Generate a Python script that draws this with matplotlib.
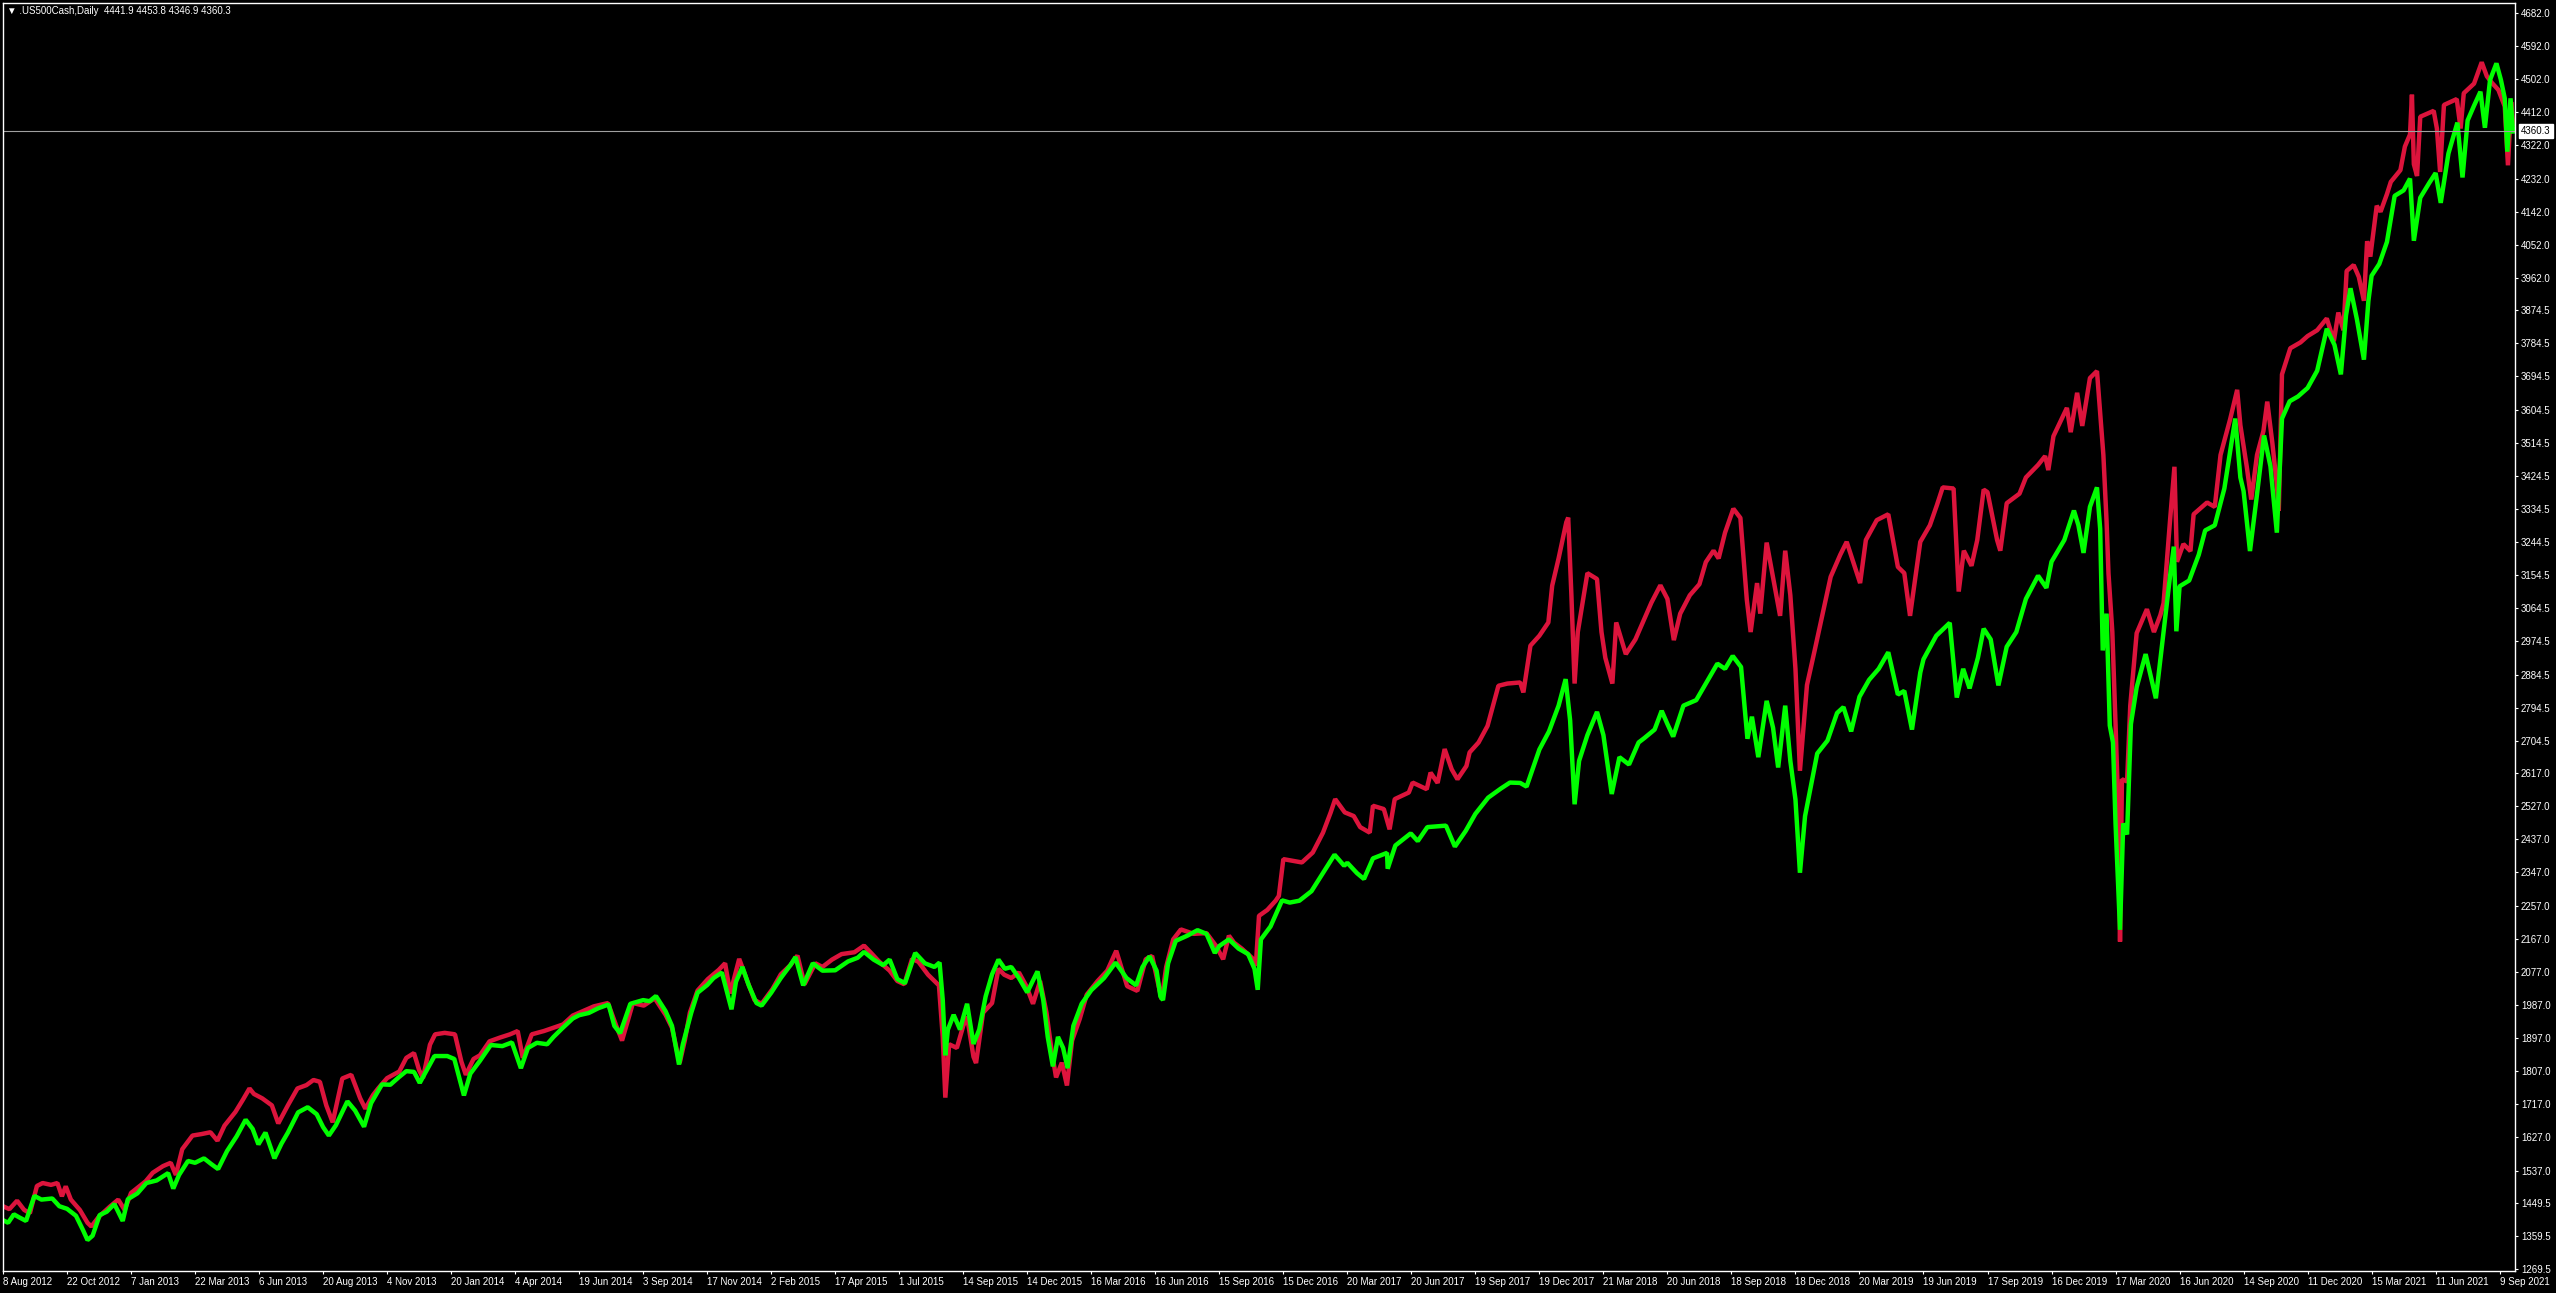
import numpy as np
import matplotlib
matplotlib.use("Agg")
import matplotlib.pyplot as plt
import matplotlib.transforms as mtransforms
from matplotlib import font_manager as fm

# ---------------- data ----------------
title_text = "\u25BC .US500Cash,Daily  4441.9 4453.8 4346.9 4360.3"
last_price = 4360.3

x_tick_labels = [
    "8 Aug 2012", "22 Oct 2012", "7 Jan 2013", "22 Mar 2013", "6 Jun 2013",
    "20 Aug 2013", "4 Nov 2013", "20 Jan 2014", "4 Apr 2014", "19 Jun 2014",
    "3 Sep 2014", "17 Nov 2014", "2 Feb 2015", "17 Apr 2015", "1 Jul 2015",
    "14 Sep 2015", "14 Dec 2015", "16 Mar 2016", "16 Jun 2016", "15 Sep 2016",
    "15 Dec 2016", "20 Mar 2017", "20 Jun 2017", "19 Sep 2017", "19 Dec 2017",
    "21 Mar 2018", "20 Jun 2018", "18 Sep 2018", "18 Dec 2018", "20 Mar 2019",
    "19 Jun 2019", "17 Sep 2019", "16 Dec 2019", "17 Mar 2020", "16 Jun 2020",
    "14 Sep 2020", "11 Dec 2020", "15 Mar 2021", "11 Jun 2021", "9 Sep 2021",
]

y_tick_values = [
    4682.0, 4592.0, 4502.0, 4412.0, 4322.0, 4232.0, 4142.0, 4052.0, 3962.0,
    3874.5, 3784.5, 3694.5, 3604.5, 3514.5, 3424.5, 3334.5, 3244.5, 3154.5,
    3064.5, 2974.5, 2884.5, 2794.5, 2704.5, 2617.0, 2527.0, 2437.0, 2347.0,
    2257.0, 2167.0, 2077.0, 1987.0, 1897.0, 1807.0, 1717.0, 1627.0, 1537.0,
    1449.5, 1359.5, 1269.5,
]

# bar position in units of the date-label spacing (label k sits at k)
green_x = [
    0.00, 0.08, 0.17, 0.25, 0.36, 0.49, 0.60, 0.77, 0.88, 1.00, 1.14, 1.25, 1.32, 1.40, 1.51,
    1.62, 1.74, 1.87, 1.95, 2.10, 2.24, 2.40, 2.58, 2.66, 2.75, 2.89, 3.00, 3.14, 3.25, 3.36,
    3.50, 3.65, 3.79, 3.90, 3.99, 4.10, 4.24, 4.35, 4.45, 4.61, 4.76, 4.90, 5.00, 5.09, 5.20,
    5.38, 5.50, 5.64, 5.75, 5.92, 6.05, 6.18, 6.30, 6.42, 6.51, 6.62, 6.74, 6.94, 7.05, 7.20,
    7.30, 7.45, 7.62, 7.80, 7.95, 8.09, 8.20, 8.34, 8.50, 8.60, 8.74, 8.90, 9.00, 9.15, 9.30,
    9.46, 9.55, 9.64, 9.80, 10.00, 10.10, 10.20, 10.35, 10.45, 10.56, 10.62, 10.75, 10.85, 11.00, 11.10,
    11.23, 11.38, 11.45, 11.55, 11.65, 11.77, 11.85, 12.00, 12.15, 12.30, 12.38, 12.50, 12.65, 12.80, 13.00,
    13.20, 13.35, 13.45, 13.60, 13.75, 13.85, 13.97, 14.09, 14.25, 14.40, 14.55, 14.63, 14.68, 14.72, 14.76,
    14.85, 14.95, 15.00, 15.06, 15.16, 15.25, 15.35, 15.45, 15.55, 15.65, 15.75, 15.87, 16.00, 16.08, 16.16,
    16.25, 16.32, 16.40, 16.48, 16.56, 16.63, 16.72, 16.85, 17.00, 17.20, 17.38, 17.55, 17.70, 17.80, 17.91,
    18.02, 18.08, 18.12, 18.20, 18.32, 18.50, 18.66, 18.80, 18.93, 19.00, 19.15, 19.30, 19.45, 19.55, 19.60,
    19.65, 19.80, 19.98, 20.10, 20.25, 20.44, 20.60, 20.80, 20.95, 21.00, 21.15, 21.26, 21.40, 21.62, 21.63,
    21.75, 21.99, 22.10, 22.25, 22.40, 22.54, 22.68, 22.85, 23.00, 23.20, 23.40, 23.54, 23.70, 23.80, 24.00,
    24.15, 24.30, 24.41, 24.48, 24.55, 24.62, 24.75, 24.90, 25.00, 25.13, 25.25, 25.40, 25.55, 25.64, 25.80,
    25.91, 26.00, 26.09, 26.25, 26.45, 26.60, 26.78, 26.90, 27.02, 27.15, 27.25, 27.32, 27.42, 27.55, 27.65,
    27.73, 27.84, 27.92, 28.00, 28.07, 28.15, 28.34, 28.50, 28.65, 28.75, 28.87, 29.00, 29.15, 29.30, 29.45,
    29.60, 29.70, 29.82, 29.95, 30.00, 30.20, 30.41, 30.52, 30.62, 30.72, 30.85, 30.94, 31.05, 31.17, 31.30,
    31.45, 31.60, 31.79, 31.92, 32.00, 32.20, 32.35, 32.42, 32.50, 32.60, 32.71, 32.76, 32.80, 32.86, 32.91,
    32.96, 33.00, 33.07, 33.12, 33.18, 33.24, 33.33, 33.47, 33.55, 33.63, 33.75, 33.85, 33.91, 33.95, 34.00,
    34.15, 34.30, 34.40, 34.55, 34.70, 34.87, 34.95, 35.00, 35.10, 35.20, 35.32, 35.42, 35.52, 35.60, 35.72,
    35.85, 36.00, 36.15, 36.30, 36.42, 36.52, 36.60, 36.67, 36.77, 36.88, 36.95, 37.00, 37.12, 37.24, 37.36,
    37.50, 37.60, 37.66, 37.76, 37.90, 38.00, 38.08, 38.20, 38.34, 38.42, 38.50, 38.60, 38.70, 38.77, 38.85,
    38.95, 39.02, 39.08, 39.12, 39.17, 39.21,
]
green_y = [
    1402, 1395, 1418, 1410, 1400, 1468, 1458, 1461, 1440, 1433, 1414, 1375, 1348, 1360, 1416,
    1425, 1446, 1400, 1459, 1475, 1503, 1510, 1530, 1488, 1525, 1563, 1558, 1570, 1555, 1541,
    1590, 1630, 1675, 1650, 1608, 1640, 1570, 1610, 1640, 1695, 1709, 1690, 1655, 1632, 1660,
    1725, 1700, 1656, 1720, 1771, 1770, 1790, 1807, 1805, 1775, 1810, 1848, 1848, 1840, 1741,
    1800, 1835, 1878, 1875, 1885, 1815, 1870, 1884, 1880, 1900, 1924, 1950, 1959, 1965, 1978,
    1988, 1930, 1910, 1990, 2000, 1997, 2011, 1970, 1930, 1825, 1880, 1965, 2020, 2041, 2060,
    2075, 1975, 2050, 2090, 2040, 1992, 1985, 2020, 2060, 2095, 2117, 2040, 2100, 2080, 2081,
    2105, 2115, 2131, 2110, 2095, 2110, 2057, 2046, 2128, 2100, 2090, 2102, 2000, 1850, 1920,
    1960, 1920, 1953, 1990, 1881, 1920, 2010, 2070, 2110, 2085, 2090, 2060, 2021, 2050, 2078,
    2000, 1900, 1820, 1900, 1870, 1815, 1930, 1990, 2027, 2060, 2102, 2060, 2040, 2090, 2119,
    2080, 2010, 2000, 2100, 2161, 2175, 2190, 2180, 2128, 2147, 2165, 2140, 2125, 2085, 2028,
    2165, 2200, 2271, 2265, 2270, 2296, 2340, 2395, 2365, 2373, 2345, 2329, 2385, 2400, 2357,
    2420, 2453, 2432, 2470, 2472, 2474, 2417, 2460, 2506, 2550, 2575, 2591, 2590, 2580, 2681,
    2730, 2800, 2872, 2760, 2532, 2650, 2720, 2783, 2720, 2560, 2660, 2640, 2700, 2712, 2735,
    2786, 2750, 2716, 2800, 2815, 2860, 2914, 2900, 2935, 2905, 2710, 2770, 2660, 2813, 2740,
    2632, 2800, 2650, 2545, 2346, 2500, 2670, 2705, 2780, 2796, 2730, 2824, 2870, 2900, 2945,
    2830, 2840, 2735, 2890, 2926, 2990, 3025, 2822, 2900, 2847, 2930, 3009, 2980, 2855, 2960,
    3000, 3090, 3153, 3120, 3191, 3250, 3330, 3290, 3215, 3340, 3393, 3280, 2950, 3050, 2746,
    2700, 2480, 2191, 2480, 2450, 2750, 2850, 2940, 2880, 2820, 3000, 3150, 3232, 3002, 3124,
    3140, 3210, 3276, 3290, 3390, 3580, 3420, 3383, 3220, 3360, 3534, 3450, 3270, 3580, 3627,
    3640, 3663, 3710, 3824, 3780, 3700, 3860, 3934, 3850, 3740, 3900, 3968, 4000, 4060, 4185,
    4200, 4232, 4063, 4180, 4220, 4247, 4166, 4300, 4384, 4235, 4390, 4430, 4468, 4370, 4500,
    4545, 4500, 4450, 4305, 4450, 4360,
]

red_x = [
    0.00, 0.10, 0.22, 0.33, 0.42, 0.53, 0.62, 0.75, 0.85, 0.92, 0.98, 1.06, 1.20, 1.32, 1.38,
    1.50, 1.67, 1.80, 1.90, 2.00, 2.23, 2.34, 2.50, 2.62, 2.70, 2.80, 2.96, 3.10, 3.24, 3.35,
    3.46, 3.63, 3.75, 3.85, 3.92, 4.05, 4.20, 4.30, 4.45, 4.60, 4.74, 4.85, 4.95, 5.05, 5.15,
    5.30, 5.44, 5.58, 5.66, 5.78, 5.86, 6.00, 6.19, 6.30, 6.42, 6.50, 6.56, 6.67, 6.75, 6.90,
    7.06, 7.16, 7.23, 7.35, 7.45, 7.60, 7.76, 7.92, 8.04, 8.12, 8.26, 8.45, 8.60, 8.75, 8.90,
    9.06, 9.23, 9.45, 9.58, 9.67, 9.84, 10.01, 10.18, 10.35, 10.45, 10.57, 10.65, 10.73, 10.85, 11.01,
    11.18, 11.28, 11.36, 11.50, 11.63, 11.74, 11.85, 12.02, 12.15, 12.30, 12.41, 12.52, 12.69, 12.80, 12.95,
    13.10, 13.30, 13.45, 13.55, 13.69, 13.85, 13.97, 14.08, 14.20, 14.30, 14.45, 14.62, 14.68, 14.72, 14.78,
    14.90, 15.00, 15.06, 15.16, 15.20, 15.31, 15.45, 15.55, 15.64, 15.75, 15.87, 15.98, 16.09, 16.20, 16.30,
    16.38, 16.45, 16.54, 16.62, 16.70, 16.82, 16.93, 17.10, 17.25, 17.39, 17.56, 17.72, 17.85, 17.95, 18.05,
    18.10, 18.17, 18.28, 18.40, 18.60, 18.80, 18.95, 19.06, 19.15, 19.23, 19.35, 19.51, 19.57, 19.62, 19.75,
    19.88, 19.93, 20.00, 20.10, 20.29, 20.46, 20.62, 20.74, 20.81, 20.96, 21.10, 21.20, 21.35, 21.40, 21.57,
    21.66, 21.74, 21.96, 22.02, 22.24, 22.30, 22.41, 22.52, 22.63, 22.72, 22.86, 22.91, 23.05, 23.19, 23.36,
    23.50, 23.70, 23.75, 23.86, 24.00, 24.14, 24.20, 24.30, 24.42, 24.45, 24.50, 24.55, 24.60, 24.75, 24.90,
    24.97, 25.03, 25.14, 25.20, 25.35, 25.50, 25.60, 25.75, 25.89, 26.00, 26.10, 26.20, 26.35, 26.50, 26.60,
    26.72, 26.80, 26.90, 27.03, 27.14, 27.24, 27.30, 27.40, 27.45, 27.55, 27.70, 27.76, 27.84, 27.92, 28.00,
    28.07, 28.18, 28.30, 28.39, 28.55, 28.70, 28.80, 29.01, 29.10, 29.27, 29.45, 29.60, 29.70, 29.79, 29.95,
    30.10, 30.21, 30.30, 30.47, 30.55, 30.63, 30.75, 30.84, 30.94, 31.00, 31.15, 31.20, 31.30, 31.50, 31.60,
    31.79, 31.90, 31.95, 32.03, 32.24, 32.30, 32.40, 32.48, 32.60, 32.71, 32.76, 32.81, 32.86, 32.89, 32.95,
    33.00, 33.05, 33.07, 33.10, 33.18, 33.23, 33.33, 33.49, 33.60, 33.70, 33.75, 33.85, 33.92, 33.96, 34.06,
    34.17, 34.22, 34.43, 34.55, 34.64, 34.79, 34.90, 34.95, 35.05, 35.12, 35.21, 35.31, 35.37, 35.45, 35.52,
    35.55, 35.60, 35.73, 35.89, 36.00, 36.15, 36.30, 36.41, 36.48, 36.56, 36.61, 36.72, 36.80, 36.88, 36.93,
    36.98, 37.08, 37.14, 37.24, 37.30, 37.45, 37.52, 37.60, 37.63, 37.66, 37.71, 37.76, 37.97, 38.02, 38.07,
    38.13, 38.33, 38.39, 38.44, 38.60, 38.72, 38.80, 38.88, 38.98, 39.08, 39.13, 39.18, 39.21,
]
red_y = [
    1440, 1432, 1455, 1430, 1421, 1495, 1503, 1498, 1503, 1467, 1494, 1458, 1430, 1395, 1385,
    1412, 1439, 1458, 1430, 1476, 1508, 1531, 1549, 1558, 1525, 1595, 1632, 1636, 1641, 1618,
    1659, 1696, 1730, 1760, 1745, 1733, 1714, 1665, 1714, 1760, 1769, 1783, 1778, 1714, 1668,
    1787, 1797, 1733, 1705, 1742, 1760, 1788, 1806, 1843, 1856, 1810, 1788, 1879, 1907, 1911,
    1907, 1833, 1797, 1840, 1850, 1888, 1898, 1907, 1916, 1843, 1907, 1916, 1925, 1934, 1958,
    1970, 1983, 1992, 1930, 1890, 1992, 1985, 2005, 1960, 1925, 1829, 1890, 1966, 2026, 2057,
    2082, 2100, 2018, 2112, 2050, 2000, 1990, 2030, 2070, 2095, 2121, 2043, 2100, 2090, 2110,
    2125, 2130, 2148, 2130, 2104, 2080, 2052, 2043, 2112, 2104, 2069, 2040, 1900, 1735, 1880,
    1870, 1930, 1955, 1846, 1829, 1966, 1992, 2085, 2069, 2060, 2075, 2040, 1990, 2052, 1966,
    1863, 1790, 1830, 1768, 1890, 1949, 2015, 2052, 2080, 2134, 2038, 2025, 2111, 2120, 2040,
    2002, 2090, 2165, 2192, 2180, 2182, 2147, 2111, 2175, 2156, 2140, 2115, 2093, 2229, 2245,
    2270, 2283, 2383, 2380, 2374, 2401, 2455, 2510, 2546, 2510, 2500, 2470, 2455, 2528, 2519,
    2464, 2546, 2564, 2591, 2573, 2618, 2590, 2682, 2627, 2600, 2636, 2673, 2700, 2745, 2854,
    2860, 2863, 2836, 2963, 2990, 3026, 3126, 3200, 3298, 3311, 3100, 2860, 3000, 3160, 3144,
    3000, 2930, 2860, 3026, 2940, 2980, 3020, 3080, 3127, 3090, 2978, 3050, 3100, 3130, 3190,
    3221, 3200, 3270, 3335, 3310, 3088, 3000, 3133, 3050, 3243, 3100, 3044, 3221, 3100, 2900,
    2623, 2856, 2950, 3022, 3150, 3210, 3245, 3133, 3250, 3304, 3320, 3177, 3160, 3044, 3245,
    3290, 3345, 3393, 3390, 3110, 3221, 3180, 3250, 3387, 3380, 3250, 3221, 3350, 3376, 3420,
    3454, 3478, 3440, 3532, 3609, 3543, 3650, 3560, 3690, 3709, 3594, 3481, 3300, 3159, 3000,
    2750, 2480, 2159, 2600, 2594, 2800, 2997, 3062, 3000, 3046, 3078, 3300, 3449, 3191, 3239,
    3220, 3320, 3352, 3340, 3481, 3578, 3658, 3562, 3449, 3360, 3481, 3546, 3626, 3513, 3400,
    3330, 3700, 3771, 3787, 3804, 3820, 3852, 3790, 3868, 3820, 3981, 3997, 3965, 3900, 4062,
    4020, 4158, 4142, 4190, 4223, 4255, 4319, 4352, 4460, 4271, 4239, 4400, 4416, 4368, 4250,
    4432, 4448, 4368, 4464, 4490, 4548, 4510, 4492, 4473, 4428, 4268, 4440, 4380,
]

# ---------------- style / layout ----------------
def font_available(name):
    try:
        fm.findfont(fm.FontProperties(family=name), fallback_to_default=False)
        return True
    except Exception:
        return False

FONT = "Liberation Sans Narrow" if font_available("Liberation Sans Narrow") else "Liberation Sans"
plt.rcParams["font.family"] = [FONT, "DejaVu Sans"]
LABEL_SIZE = 7.5 if FONT == "Liberation Sans Narrow" else 7.0

W, H, DPI = 2556, 1293, 100
fig = plt.figure(figsize=(W / DPI, H / DPI), dpi=DPI, facecolor="black")
ax = fig.add_axes([3 / W, 1 - 1271 / H, (2515 - 3) / W, (1271 - 3) / H], facecolor="black")

ax.plot(red_x, red_y, color="#DC143C", lw=3.2, solid_joinstyle="bevel")
ax.plot(green_x, green_y, color="#00FF00", lw=3.2, solid_joinstyle="bevel")

ax.axhline(last_price, color="#A0A0A0", lw=0.8)

ax.set_xlim(0, 39.24)
ax.set_ylim(1264, 4709)

for s in ax.spines.values():
    s.set_color("white")
    s.set_linewidth(1.0)

ax.set_xticks(np.arange(len(x_tick_labels)))
ax.set_xticklabels(x_tick_labels, ha="left")
ax.yaxis.tick_right()
ax.set_yticks(y_tick_values)
ax.set_yticklabels([f"{v:.1f}" for v in y_tick_values])

ax.tick_params(axis="x", colors="white", direction="out", length=2.5, width=0.8,
               pad=2.0, labelsize=LABEL_SIZE)
ax.tick_params(axis="y", colors="white", direction="out", length=2.5, width=0.8,
               pad=1.8, labelsize=LABEL_SIZE)

trans = mtransforms.blended_transform_factory(ax.transAxes, ax.transData)
ax.text(1.0025, last_price, f"{last_price:.1f}", transform=trans, ha="left", va="center",
        color="black", fontsize=LABEL_SIZE,
        bbox=dict(facecolor="white", edgecolor="white", boxstyle="square,pad=0.2"))

fig.text(7 / W, 1 - 11 / H, title_text, color="white", fontsize=LABEL_SIZE,
         ha="left", va="center")

fig.savefig("out.png", dpi=DPI, facecolor="black")
